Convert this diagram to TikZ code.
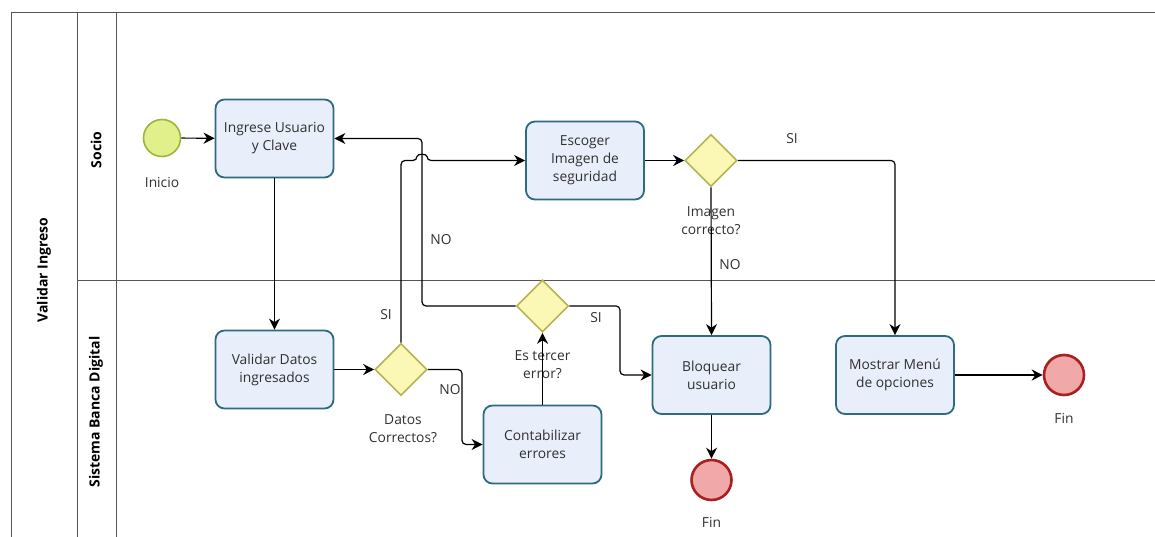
\documentclass[tikz,border=0pt]{standalone}
\usepackage{fontspec}
\setmainfont{Open Sans}
\usetikzlibrary{arrows.meta,shapes.geometric}
\definecolor{taskfill}{HTML}{E8EEFA}
\definecolor{taskline}{HTML}{2E6B7E}
\definecolor{gatefill}{HTML}{FAF8B4}
\definecolor{gateline}{HTML}{B4B450}
\definecolor{startfill}{HTML}{E2F08C}
\definecolor{startline}{HTML}{9EB43A}
\definecolor{endfill}{HTML}{F0A8A8}
\definecolor{endline}{HTML}{A82020}
\definecolor{poolline}{HTML}{555555}
\definecolor{txt}{HTML}{303030}
\begin{document}
\begin{tikzpicture}[x=1pt,y=-1pt,
  every node/.style={font=\fontsize{13.8}{18}\selectfont, text=txt},
  task/.style={draw=taskline, fill=taskfill, line width=1.8pt, rounded corners=9pt,
    minimum width=118pt, minimum height=78pt, align=center, inner sep=2pt},
  gate/.style={diamond, draw=gateline, fill=gatefill, line width=1.6pt,
    minimum width=52pt, minimum height=52pt, inner sep=0pt},
  startev/.style={circle, draw=startline, fill=startfill, line width=1.6pt,
    minimum size=37pt, inner sep=0pt},
  endev/.style={circle, draw=endline, fill=endfill, line width=2.6pt,
    minimum size=40pt, inner sep=0pt},
  flow/.style={draw=black, line width=1.2pt, rounded corners=4pt,
    -{Stealth[length=11pt,width=11pt,inset=3.5pt]}},
  lbl/.style={align=center, inner sep=1pt},
  lane/.style={rotate=90, font=\fontsize{14}{16}\selectfont\bfseries, text=black},
  pool/.style={draw=poolline, line width=0.9pt}]

\useasboundingbox (0,0) rectangle (1155,537);

% pool and lanes
\draw[pool] (11,537) -- (11,12) -- (1155,12);
\draw[pool] (77,12) -- (77,537);
\draw[pool] (116,12) -- (116,537);
\draw[pool] (77,280) -- (1155,280);
\node[lane] (poolname) at (44,270) {Validar Ingreso};
\node[lane] (lane1) at (96,150) {Socio};
\node[lane] (lane2) at (96,412) {Sistema Banca Digital};

% flow objects
\node[startev] (inicio) at (162,138) {};
\node[lbl] (inicioL) at (162,183) {Inicio};
\node[task] (ingrese) at (274.5,138.5) {Ingrese Usuario\\y Clave};
\node[task] (escoger) at (585,160.5) {Escoger\\Imagen de\\seguridad};
\node[gate] (gimg) at (711,160.5) {};
\node[lbl] (gimgL) at (711,221) {Imagen\\correcto?};
\node[task] (validar) at (274.5,369.5) {Validar Datos\\ingresados};
\node[gate] (gdatos) at (401,369.5) {};
\node[lbl] (gdatosL) at (403,429) {Datos\\Correctos?};
\node[gate] (gerr) at (542.5,306) {};
\node[lbl] (gerrL) at (542.5,365) {Es tercer\\error?};
\node[task] (contab) at (542.5,444.5) {Contabilizar\\errores};
\node[task] (bloquear) at (711.5,375) {Bloquear\\usuario};
\node[endev] (fin1) at (711.5,480) {};
\node[lbl] (fin1L) at (711.5,522) {Fin};
\node[task] (mostrar) at (895,375) {Mostrar Menú\\de opciones};
\node[endev] (fin2) at (1064,375) {};
\node[lbl] (fin2L) at (1064,418) {Fin};

% routing points
\coordinate (jump) at (422,160.5);
\coordinate (nocol) at (422,220);
\coordinate (datosno) at (462,400);
\coordinate (errsi) at (620,340);

% connectors
\draw[flow] (inicio) -- (ingrese);
\draw[flow] (ingrese) -- (validar);
\draw[flow] (validar) -- (gdatos);
\draw[flow] (gerr.west) -| (nocol) |- (ingrese.east);
\draw[flow] (gdatos.north) |- ([xshift=-5pt]jump)
  .. controls +(0,-7) and +(0,-7) .. ([xshift=5pt]jump) -- (escoger.west);
\draw[flow] (gdatos.east) -| (datosno) |- (contab.west);
\draw[flow] (contab) -- (gerr);
\draw[flow] (gerr.east) -| (errsi) |- (bloquear.west);
\draw[flow] (escoger) -- (gimg);
\draw[flow] (gimg.south) -- (bloquear.north);
\draw[flow] (gimg.east) -| (mostrar.north);
\draw[flow] (bloquear) -- (fin1);
\draw[flow] (mostrar) -- (fin2);

% sequence flow labels
\node[lbl] (siDatos) at (386,315) {SI};
\node[lbl] (noDatos) at (450,390) {NO};
\node[lbl] (noErr) at (441,240) {NO};
\node[lbl] (siErr) at (596,318) {SI};
\node[lbl] (noImg) at (730,265) {NO};
\node[lbl] (siImg) at (792,139) {SI};
\end{tikzpicture}
\end{document}
